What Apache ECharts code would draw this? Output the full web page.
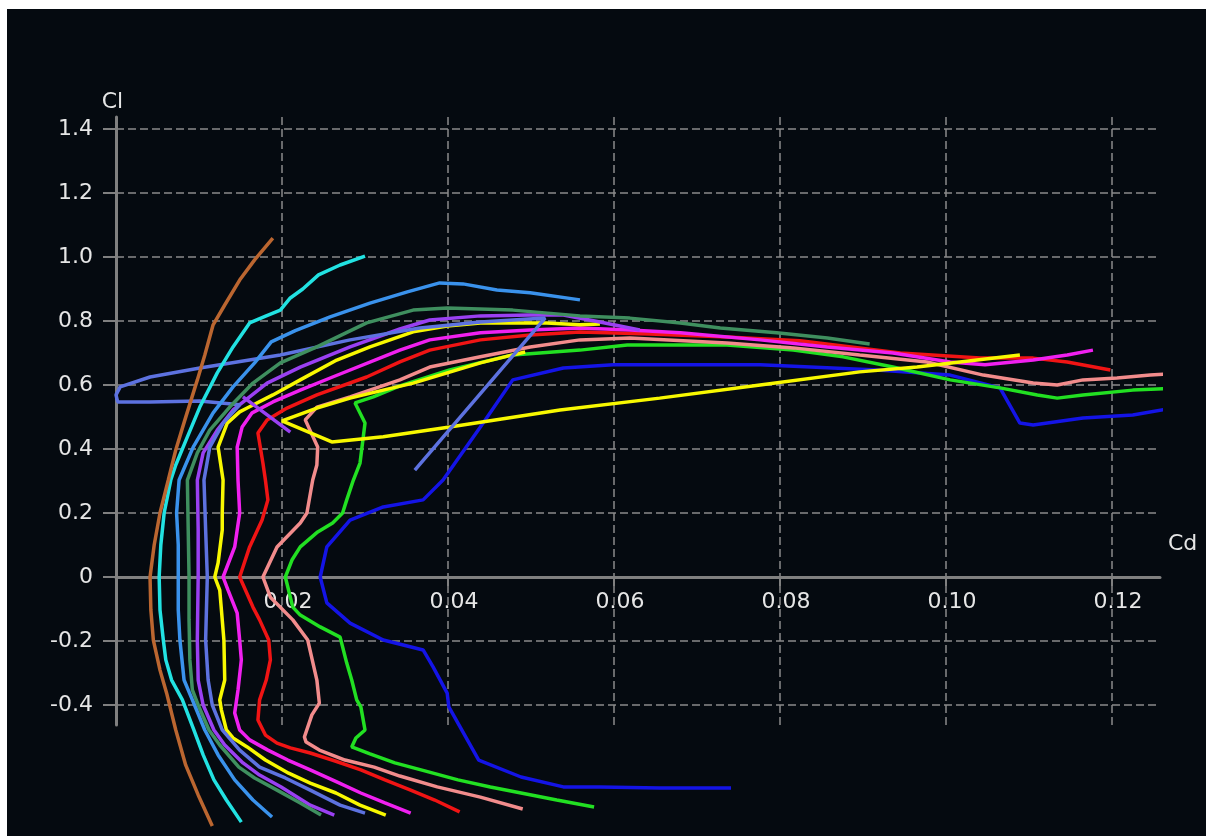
<!DOCTYPE html>
<html>
<head>
<meta charset="utf-8">
<script src="https://cdn.jsdelivr.net/npm/echarts@6/dist/echarts.min.js"></script>
<style>
html,body{margin:0;padding:0;background:#ffffff;width:1206px;height:836px;overflow:hidden;}
#chart{position:absolute;left:7px;top:9px;width:1199px;height:827px;}
</style>
</head>
<body>
<div id="chart"></div>
<script>
// Tick labels
const cdTicks = [0.02, 0.04, 0.06, 0.08, 0.10, 0.12];
const clTicks = [-0.4, -0.2, 0, 0.2, 0.4, 0.6, 0.8, 1.0, 1.2, 1.4];

// Polars: [Cd, Cl]
const polarBrown = [[0.0116,-0.778],[0.0099,-0.681],[0.0084,-0.588],[0.0072,-0.478],[0.0061,-0.363],[0.0053,-0.291],[0.0045,-0.197],[0.0042,-0.103],[0.0041,0],[0.0046,0.100],[0.0053,0.200],[0.0063,0.303],[0.0072,0.397],[0.0083,0.491],[0.0098,0.616],[0.0107,0.694],[0.0117,0.788],[0.0131,0.850],[0.0149,0.928],[0.0167,0.991],[0.0189,1.059]];
const polarCyan = [[0.0151,-0.766],[0.0133,-0.697],[0.0118,-0.634],[0.0105,-0.556],[0.0093,-0.472],[0.0080,-0.384],[0.0067,-0.322],[0.0060,-0.259],[0.0057,-0.197],[0.0053,-0.103],[0.0052,0],[0.0054,0.100],[0.0058,0.200],[0.0066,0.303],[0.0072,0.350],[0.0086,0.438],[0.0101,0.531],[0.0122,0.638],[0.0141,0.719],[0.0161,0.794],[0.0181,0.816],[0.0198,0.834],[0.0210,0.872],[0.0225,0.900],[0.0244,0.944],[0.0270,0.975],[0.0300,1.003]];
const polarLightBlue = [[0.0188,-0.750],[0.0165,-0.697],[0.0143,-0.634],[0.0123,-0.556],[0.0107,-0.478],[0.0092,-0.384],[0.0082,-0.322],[0.0077,-0.197],[0.0075,-0.103],[0.0075,0],[0.0075,0.100],[0.0073,0.200],[0.0076,0.303],[0.0093,0.406],[0.0117,0.513],[0.0141,0.594],[0.0167,0.669],[0.0187,0.735],[0.0216,0.770],[0.0258,0.813],[0.0306,0.856],[0.0351,0.891],[0.0390,0.919],[0.0418,0.916],[0.0459,0.897],[0.0499,0.888],[0.0559,0.866]];
const polarDarkGreen = [[0.0247,-0.744],[0.0222,-0.706],[0.0194,-0.666],[0.0167,-0.628],[0.0148,-0.594],[0.0125,-0.525],[0.0112,-0.478],[0.0099,-0.400],[0.0092,-0.353],[0.0089,-0.259],[0.0088,-0.134],[0.0088,0],[0.0087,0.147],[0.0086,0.303],[0.0098,0.388],[0.0113,0.459],[0.0137,0.531],[0.0165,0.606],[0.0198,0.669],[0.0242,0.719],[0.0302,0.794],[0.0358,0.834],[0.0399,0.841],[0.0478,0.834],[0.0559,0.816],[0.0619,0.809],[0.0680,0.794],[0.0728,0.778],[0.0796,0.763],[0.0857,0.747],[0.0908,0.728]];
const polarPurple = [[0.0263,-0.744],[0.0234,-0.713],[0.0199,-0.656],[0.0173,-0.619],[0.0153,-0.581],[0.0131,-0.525],[0.0118,-0.478],[0.0105,-0.400],[0.0099,-0.322],[0.0098,-0.197],[0.0099,0],[0.0099,0.147],[0.0098,0.303],[0.0105,0.388],[0.0122,0.459],[0.0141,0.522],[0.0161,0.563],[0.0182,0.606],[0.0222,0.656],[0.0282,0.719],[0.0342,0.775],[0.0378,0.803],[0.0439,0.816],[0.0499,0.819],[0.0539,0.819],[0.0583,0.797],[0.0631,0.772]];
const polarPurpleTail = [[0.0153,0.563],[0.0210,0.453]];
const polarSlate = [[0.0300,-0.738],[0.0270,-0.713],[0.0234,-0.666],[0.0204,-0.628],[0.0173,-0.594],[0.0149,-0.541],[0.0128,-0.478],[0.0116,-0.400],[0.0111,-0.322],[0.0108,-0.197],[0.0110,0],[0.0108,0.147],[0.0106,0.303],[0.0113,0.406],[0.0129,0.481],[0.0149,0.538],[0.0101,0.550],[0.0041,0.547],[0.0002,0.547],[0.0000,0.569],[0.0005,0.594],[0.0041,0.625],[0.0101,0.653],[0.0198,0.694],[0.0282,0.741],[0.0366,0.778],[0.0439,0.797],[0.0517,0.809],[0.0360,0.334]];
const polarYellow = [[0.0325,-0.744],[0.0294,-0.713],[0.0265,-0.675],[0.0234,-0.644],[0.0208,-0.613],[0.0180,-0.572],[0.0158,-0.531],[0.0141,-0.503],[0.0133,-0.478],[0.0127,-0.416],[0.0125,-0.384],[0.0131,-0.322],[0.0130,-0.197],[0.0127,-0.103],[0.0125,-0.041],[0.0119,0],[0.0123,0.044],[0.0128,0.147],[0.0128,0.200],[0.0129,0.303],[0.0123,0.406],[0.0134,0.481],[0.0149,0.516],[0.0158,0.528],[0.0189,0.569],[0.0222,0.616],[0.0266,0.678],[0.0306,0.719],[0.0358,0.766],[0.0399,0.784],[0.0439,0.794],[0.0519,0.794],[0.0559,0.788],[0.0583,0.791]];
const polarYellowTail = [[0.1089,0.694],[0.0965,0.656],[0.0896,0.641],[0.0776,0.600],[0.0655,0.559],[0.0535,0.522],[0.0402,0.469],[0.0322,0.438],[0.0260,0.422],[0.0200,0.488],[0.0242,0.528],[0.0282,0.559],[0.0322,0.584],[0.0358,0.606],[0.0399,0.638],[0.0439,0.669],[0.0478,0.694],[0.0493,0.703]];
const polarMagenta = [[0.0355,-0.738],[0.0324,-0.706],[0.0295,-0.675],[0.0264,-0.638],[0.0234,-0.603],[0.0207,-0.572],[0.0183,-0.541],[0.0161,-0.509],[0.0149,-0.478],[0.0143,-0.425],[0.0147,-0.353],[0.0151,-0.259],[0.0149,-0.197],[0.0146,-0.113],[0.0135,-0.041],[0.0129,0],[0.0143,0.094],[0.0149,0.200],[0.0147,0.303],[0.0146,0.406],[0.0152,0.469],[0.0164,0.513],[0.0189,0.547],[0.0222,0.584],[0.0261,0.625],[0.0342,0.709],[0.0378,0.741],[0.0439,0.763],[0.0499,0.772],[0.0559,0.778],[0.0619,0.772],[0.0680,0.763],[0.0776,0.741],[0.0857,0.719],[0.0936,0.700],[0.1005,0.672],[0.1047,0.663],[0.1105,0.678],[0.1146,0.694],[0.1177,0.709]];
const polarRed = [[0.0414,-0.734],[0.0384,-0.697],[0.0355,-0.666],[0.0324,-0.634],[0.0295,-0.603],[0.0264,-0.575],[0.0234,-0.550],[0.0210,-0.534],[0.0194,-0.519],[0.0180,-0.494],[0.0171,-0.447],[0.0173,-0.384],[0.0181,-0.322],[0.0186,-0.259],[0.0184,-0.197],[0.0173,-0.134],[0.0165,-0.094],[0.0149,0],[0.0161,0.094],[0.0176,0.178],[0.0183,0.241],[0.0180,0.303],[0.0177,0.356],[0.0171,0.450],[0.0182,0.491],[0.0206,0.528],[0.0242,0.569],[0.0302,0.625],[0.0342,0.672],[0.0378,0.709],[0.0439,0.741],[0.0499,0.756],[0.0559,0.766],[0.0643,0.759],[0.0736,0.750],[0.0824,0.738],[0.0945,0.700],[0.1041,0.684],[0.1105,0.684],[0.1146,0.672],[0.1198,0.647]];
const polarPink = [[0.0490,-0.725],[0.0439,-0.688],[0.0387,-0.656],[0.0342,-0.622],[0.0311,-0.594],[0.0276,-0.572],[0.0245,-0.541],[0.0229,-0.516],[0.0227,-0.500],[0.0236,-0.431],[0.0245,-0.394],[0.0242,-0.322],[0.0231,-0.197],[0.0213,-0.134],[0.0186,-0.063],[0.0177,0],[0.0194,0.094],[0.0222,0.169],[0.0230,0.200],[0.0237,0.303],[0.0242,0.350],[0.0243,0.406],[0.0228,0.491],[0.0242,0.531],[0.0282,0.563],[0.0342,0.616],[0.0378,0.656],[0.0439,0.688],[0.0499,0.719],[0.0559,0.741],[0.0619,0.747],[0.0736,0.731],[0.0816,0.716],[0.0896,0.694],[0.0977,0.672],[0.1045,0.631],[0.1105,0.606],[0.1134,0.600],[0.1165,0.616],[0.1206,0.622],[0.1246,0.631],[0.1298,0.641]];
const polarGreen = [[0.0576,-0.719],[0.0531,-0.697],[0.0488,-0.675],[0.0451,-0.656],[0.0412,-0.634],[0.0372,-0.606],[0.0336,-0.581],[0.0306,-0.553],[0.0284,-0.531],[0.0289,-0.503],[0.0300,-0.478],[0.0295,-0.406],[0.0290,-0.384],[0.0284,-0.322],[0.0278,-0.269],[0.0270,-0.188],[0.0246,-0.156],[0.0222,-0.119],[0.0213,-0.094],[0.0204,0],[0.0212,0.053],[0.0222,0.094],[0.0243,0.141],[0.0261,0.169],[0.0273,0.200],[0.0278,0.241],[0.0286,0.303],[0.0294,0.356],[0.0300,0.481],[0.0288,0.544],[0.0310,0.563],[0.0342,0.597],[0.0402,0.647],[0.0478,0.694],[0.0559,0.709],[0.0616,0.725],[0.0736,0.725],[0.0816,0.709],[0.0876,0.688],[0.0936,0.656],[0.1005,0.616],[0.1065,0.591],[0.1110,0.569],[0.1134,0.559],[0.1165,0.569],[0.1225,0.584],[0.1290,0.591]];
const polarBlue = [[0.0741,-0.659],[0.0655,-0.659],[0.0583,-0.656],[0.0539,-0.656],[0.0488,-0.625],[0.0437,-0.572],[0.0401,-0.406],[0.0399,-0.363],[0.0382,-0.281],[0.0370,-0.228],[0.0322,-0.197],[0.0282,-0.144],[0.0254,-0.081],[0.0246,0],[0.0254,0.094],[0.0282,0.178],[0.0322,0.219],[0.0370,0.241],[0.0394,0.303],[0.0439,0.469],[0.0478,0.616],[0.0539,0.653],[0.0599,0.663],[0.0776,0.663],[0.0917,0.647],[0.1005,0.631],[0.1065,0.591],[0.1089,0.481],[0.1105,0.475],[0.1165,0.497],[0.1225,0.506],[0.1273,0.528]];

const layers = [
  [polarBlue, '#1414e6'],
  [polarGreen, '#22e022'],
  [polarPink, '#f28c8c'],
  [polarRed, '#f01414'],
  [polarMagenta, '#f020f0'],
  [polarYellow, '#f8f800'],
  [polarYellowTail, '#f8f800'],
  [polarPurple, '#9a40f2'],
  [polarPurpleTail, '#9a40f2'],
  [polarSlate, '#5d72e0'],
  [polarDarkGreen, '#3f8f5f'],
  [polarLightBlue, '#3a92ec'],
  [polarCyan, '#22e2e2'],
  [polarBrown, '#bb6630']
];

const FONT = 'DejaVu Sans';
const axisGray = '#808080';
const gridGray = '#8a8a8a';
const labelColor = '#e6e6e6';

const chart = echarts.init(document.getElementById('chart'), null, {renderer: 'canvas'});
chart.setOption({
  backgroundColor: '#050a10',
  animation: false,
  grid: {left: 109, right: 46, top: 108, bottom: 111, containLabel: false},
  xAxis: {
    type: 'value', min: 0, max: 0.12578,
    position: 'bottom', offset: -148,
    name: 'Cd', nameLocation: 'end', nameGap: 8,
    nameTextStyle: {color: labelColor, fontSize: 22, fontFamily: FONT, verticalAlign: 'bottom', padding: [0, 0, 22, 0]},
    axisLine: {show: true, onZero: false, lineStyle: {color: axisGray, width: 3}},
    axisTick: {show: true, inside: false, length: 9, customValues: cdTicks, lineStyle: {color: axisGray, width: 2}},
    axisLabel: {customValues: cdTicks, formatter: v => v.toFixed(2), margin: 14, color: labelColor, fontSize: 22, fontFamily: FONT, padding: [0, 0, 0, 12]},
    splitLine: {show: true, lineStyle: {color: gridGray, width: 1.5, type: [8, 4]}}
  },
  yAxis: {
    type: 'value', min: -0.4625, max: 1.4375,
    name: 'Cl', nameLocation: 'end', nameGap: 4,
    nameTextStyle: {color: labelColor, fontSize: 22, fontFamily: FONT, padding: [0, 7, 0, 0]},
    axisLine: {show: true, onZero: false, lineStyle: {color: axisGray, width: 3}},
    axisTick: {show: true, inside: false, length: 13, customValues: clTicks, lineStyle: {color: axisGray, width: 2}},
    axisLabel: {customValues: clTicks, formatter: v => (Math.abs(v) < 1e-9 ? '0' : v.toFixed(1)), margin: 23, color: labelColor, fontSize: 22, fontFamily: FONT},
    splitLine: {show: true, lineStyle: {color: gridGray, width: 1.5, type: [8, 4]}}
  },
  series: layers.map((l, i) => ({
    type: 'line',
    data: l[0],
    showSymbol: false,
    symbol: 'none',
    clip: false,
    silent: true,
    z: 3,
    lineStyle: {color: l[1], width: 3.5},
    itemStyle: {color: l[1]}
  }))
});
</script>
</body>
</html>
